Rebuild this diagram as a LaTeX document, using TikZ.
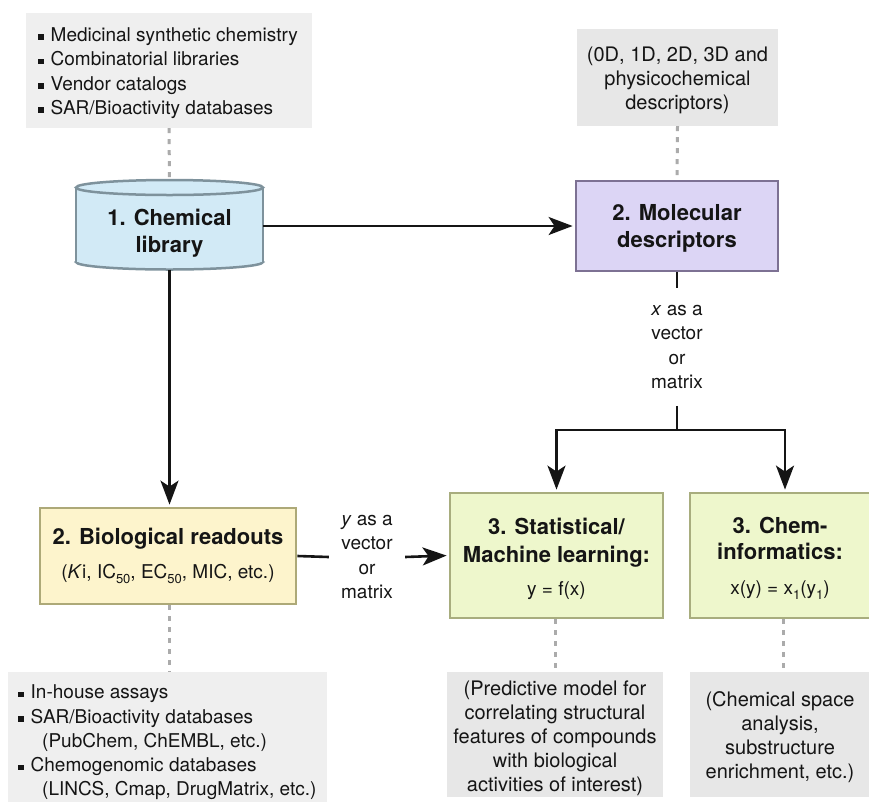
\documentclass[tikz,border=0pt]{standalone}
\usepackage{fontspec}
\setmainfont{TeX Gyre Heros}
\usetikzlibrary{arrows.meta,calc}

\definecolor{inkblack}{HTML}{151515}
\definecolor{noteLight}{HTML}{EFEFEF}
\definecolor{noteDark}{HTML}{E7E7E7}
\definecolor{dashgrey}{HTML}{ABABAB}
\definecolor{cylfill}{HTML}{D2EAF6}
\definecolor{cylline}{HTML}{7E929C}
\definecolor{lavfill}{HTML}{DCD5F5}
\definecolor{lavline}{HTML}{7D7193}
\definecolor{yelfill}{HTML}{FDF4CC}
\definecolor{yelline}{HTML}{ADA978}
\definecolor{grnfill}{HTML}{EEF7CC}
\definecolor{grnline}{HTML}{A8AD7E}

\newcommand{\bodyfont}{\fontsize{19}{24.3}\selectfont}
\newcommand{\notefont}{\fontsize{20}{24}\selectfont}
\newcommand{\listfont}{\fontsize{19}{24.3}\selectfont}
\newcommand{\headfont}{\fontsize{22}{27}\selectfont\bfseries}
\newcommand{\sqbul}{\makebox[12.5pt][l]{\raisebox{1.5pt}{\rule{5.5pt}{5.5pt}}}}
\newcommand{\lowsub}[1]{\raisebox{-5pt}{\fontsize{13}{13}\selectfont #1}}

\tikzset{
  notebox/.style={fill=#1, inner sep=0pt},
  notetext/.style={inner sep=0pt, align=center, font=\notefont, text=inkblack},
  listtext/.style={inner sep=0pt, align=left, font=\listfont, text=inkblack, anchor=west},
  stepbox/.style args={#1/#2}{draw=#2, fill=#1, line width=2.8pt, inner sep=0pt,
    align=center, text=inkblack},
  steptext/.style={inner sep=0pt, align=center, font=\bodyfont, text=inkblack},
  flow/.style={draw=inkblack, line width=2.6pt},
  arr/.style={flow, -{Stealth[length=24pt,width=18pt,inset=6pt]}, shorten >=2pt},
  link/.style={draw=dashgrey, line width=3pt, dash pattern=on 5pt off 6pt},
  flowlabel/.style={font=\bodyfont, align=center, text=inkblack, inner ysep=0pt},
}

\begin{document}
\begin{tikzpicture}[x=1pt, y=-1pt]
\useasboundingbox (0,0) rectangle (869,801);

% ---- source notes ----
\node[notebox=noteLight, minimum width=286, minimum height=115] (src) at (169,70.5) {};
\node[listtext] (srctext) at (38,73)
  {\sqbul Medicinal synthetic chemistry\\
   \sqbul Combinatorial libraries\\
   \sqbul Vendor catalogs\\
   \sqbul SAR/Bioactivity databases};

\node[notebox=noteDark, minimum width=201, minimum height=97] (desc) at (677.5,77.5) {};
\node[notetext] (desctext) at (677.5,80.5)
  {(0D, 1D, 2D, 3D and\\physicochemical\\descriptors)};

% ---- chemical library (cylinder) ----
\node[minimum width=187, minimum height=89, inner sep=0pt] (lib) at (169.5,225) {};

\filldraw[fill=cylfill, draw=cylline, line width=2.5pt]
  (169.5,262) ellipse [x radius=93.5pt, y radius=7.5pt];
\fill[cylfill] (76,187.5) rectangle (263,262);
\draw[cylline, line width=2.5pt] (76,187.5) -- (76,262) (263,187.5) -- (263,262);
\filldraw[fill=cylfill, draw=cylline, line width=2.5pt]
  (169.5,187.5) ellipse [x radius=93.5pt, y radius=7.5pt];
\node[font=\headfont, align=center, text=inkblack] (libtext) at (169.5,233)
  {1. Chemical\\library};

% ---- process boxes ----
\node[stepbox=lavfill/lavline, minimum width=202, minimum height=90, font=\headfont]
  (md) at (677,226) {\rule{0pt}{20pt}2. Molecular\\descriptors};

\node[stepbox=yelfill/yelline, minimum width=256, minimum height=96, font=\bodyfont]
  (bio) at (168,556)
  {{\headfont 2. Biological readouts}\\[9.7pt]
   (\textit{K}i, IC\lowsub{50}, EC\lowsub{50}, MIC, etc.)};

\node[stepbox=grnfill/grnline, minimum width=213, minimum height=125] (stat) at (556.5,555.5) {};
\node[steptext] (stattext) at (556.5,559)
  {{\headfont 3. Statistical/}\\[3.7pt]{\headfont Machine learning:}\\[8.7pt]y = f(x)};

\node[stepbox=grnfill/grnline, minimum width=180, minimum height=125] (chem) at (780,555.5) {};
\node[steptext] (chemtext) at (780,558.5)
  {{\headfont 3. Chem-}\\[1.7pt]{\headfont informatics:}\\[10.7pt]x(y) = x\lowsub{1}(y\lowsub{1})};

% ---- result notes ----
\node[notebox=noteLight, minimum width=319, minimum height=137] (bl) at (167.5,740.5) {};
\node[listtext] (bltext) at (18,742.5)
  {\sqbul In-house assays\\
   \sqbul SAR/Bioactivity databases\\
   \hspace*{24pt}(PubChem, ChEMBL, etc.)\\
   \sqbul Chemogenomic databases\\
   \hspace*{24pt}(LINCS, Cmap, DrugMatrix, etc.)};

\node[notebox=noteDark, minimum width=216, minimum height=125] (bm) at (555,734.5) {};
\node[notetext] (bmtext) at (555,738)
  {(Predictive model for\\correlating structural\\features of compounds\\with biological\\activities of interest)};

\node[notebox=noteDark, minimum width=180, minimum height=125] (br) at (780,734.5) {};
\node[notetext] (brtext) at (780,737)
  {(Chemical space\\analysis,\\substructure\\enrichment, etc.)};

% ---- connectors ----
\draw[arr] (lib.east |- md.west) -- (md.west);
\draw[arr] (lib.south) -- (lib.south |- bio.north);

\node[flowlabel, inner ysep=17pt] (xl) at (677,347)
  {\textit{x} as a\\vector\\or\\matrix};
\coordinate (split) at (677,430);
\draw[flow] (md.south) -- (xl.north);
\draw[flow] (xl.south) -- (split);
\draw[arr] (split) -| (stat.north);
\draw[arr] (split) -| ([xshift=5pt]chem.north);

\node[flowlabel, inner xsep=12pt] (yl) at (367,557)
  {\textit{y} as a\\vector\\or\\matrix};
\draw[flow] (bio.east) -- (yl.west);
\draw[arr] (yl.east) -- (stat.west);

% ---- dashed annotations ----
\draw[link] (src.south) -- (lib.north);
\draw[link] (desc.south) -- (md.north);
\draw[link] ([xshift=1pt]bio.south) -- ([xshift=1pt]bio.south |- bl.north);
\draw[link] (bm.north |- stat.south) -- (bm.north);
\draw[link] ([xshift=3pt]chem.south) -- ([xshift=3pt]br.north);
\end{tikzpicture}
\end{document}
